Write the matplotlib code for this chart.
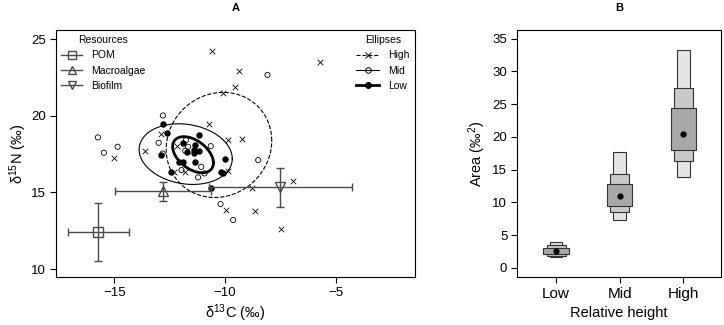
import numpy as np
import matplotlib
matplotlib.use("Agg")
import matplotlib.pyplot as plt
from matplotlib.lines import Line2D
from matplotlib.patches import Rectangle

plt.rcParams["font.family"] = ["Liberation Sans", "DejaVu Sans"]
plt.rcParams["mathtext.default"] = "regular"

# %% panel A data: consumers by relative height
high_x = [-10.59, -9.37, -9.55, -10.08, -5.71, -10.74, -9.89, -9.23, -12.88, -13.63,
          -15.02, -12.19, -12.30, -11.83, -9.86, -8.77, -6.95, -9.94, -8.65, -7.46]
high_y = [24.24, 22.93, 21.91, 21.50, 23.48, 19.46, 18.41, 18.48, 18.80, 17.72,
          17.22, 18.02, 16.35, 16.35, 16.40, 15.30, 15.76, 13.83, 13.76, 12.59]

mid_x = [-8.09, -12.81, -15.74, -14.85, -15.47, -13.00, -12.82, -11.77, -11.67, -11.80,
         -10.65, -11.08, -10.93, -11.97, -11.22, -8.51, -10.21, -9.64]
mid_y = [22.67, 20.02, 18.59, 17.98, 17.59, 18.24, 17.54, 18.41, 17.98, 17.72,
         18.02, 16.67, 16.24, 16.46, 15.98, 17.11, 14.24, 13.20]

low_x = [-12.82, -12.64, -11.17, -12.88, -11.71, -11.41, -11.89, -12.07, -12.45, -11.37,
         -10.03, -10.18, -10.08, -10.65, -11.40, -11.90, -11.17, -11.38]
low_y = [19.46, 18.85, 18.73, 17.41, 17.61, 17.80, 17.00, 17.00, 16.35, 17.00,
         17.17, 16.30, 16.26, 15.30, 17.55, 18.20, 17.70, 18.10]

# standard ellipses: centre x, centre y, sd x, sd y, correlation
ell_high = (-10.28, 18.10, 2.38, 3.43, 0.08)
ell_mid = (-11.78, 17.50, 2.10, 1.98, -0.15)
ell_low = (-11.45, 17.46, 0.92, 1.18, -0.45)

# resources: mean and sd
res_names = ["POM", "Macroalgae", "Biofilm"]
res_c_mean = [-15.72, -12.79, -7.52]
res_c_sd = [1.37, 2.16, 3.22]
res_n_mean = [12.42, 15.07, 15.33]
res_n_sd = [1.87, 0.63, 1.27]
res_markers = ["s", "^", "v"]

# %% panel B data: SEA credible intervals
groups = ["Low", "Mid", "High"]
mode = [2.54, 10.96, 20.48]
ci95 = [(1.68, 3.95), (7.29, 17.68), (13.93, 33.30)]
ci75 = [(1.88, 3.45), (8.56, 14.37), (16.38, 27.48)]
ci50 = [(2.14, 3.06), (9.43, 12.84), (18.06, 24.43)]


def ellipse_xy(cx, cy, sx, sy, rho):
    t = np.linspace(0, 2 * np.pi, 200)
    x = cx + sx * np.cos(t)
    y = cy + sy * (rho * np.cos(t) + np.sqrt(1 - rho ** 2) * np.sin(t))
    return x, y


fig = plt.figure(figsize=(7.24, 3.25), dpi=100)
axA = fig.add_axes([0.0773, 0.1477, 0.4959, 0.76])
axB = fig.add_axes([0.7141, 0.1477, 0.2818, 0.76])

# %% panel A
axA.scatter(high_x, high_y, marker="x", s=16, c="k", linewidths=0.6, zorder=3)
axA.scatter(mid_x, mid_y, marker="o", s=14, facecolors="none", edgecolors="k",
            linewidths=0.6, zorder=3)
axA.scatter(low_x, low_y, marker="o", s=13, c="k", zorder=3)

for e, ls, lw in [(ell_high, "--", 0.8), (ell_mid, "-", 0.8), (ell_low, "-", 2.0)]:
    ex, ey = ellipse_xy(*e)
    axA.plot(ex, ey, ls=ls, lw=lw, color="k", zorder=2)

res_col = "#4a4a4a"
for i in range(3):
    axA.errorbar(res_c_mean[i], res_n_mean[i], xerr=res_c_sd[i], yerr=res_n_sd[i],
                 fmt=res_markers[i], ms=7, mfc="none", mec=res_col, color=res_col,
                 ecolor=res_col, elinewidth=1, capsize=3, capthick=1, zorder=4)

axA.set_xlim(-17.63, -1.44)
axA.set_ylim(9.48, 25.6)
axA.set_xticks([-15, -10, -5])
axA.set_yticks([10, 15, 20, 25])
axA.set_xlabel("δ$^{13}$C (‰)", fontsize=10.5, labelpad=3)
axA.set_ylabel("δ$^{15}$N (‰)", fontsize=10.5, labelpad=2)
axA.set_title("A", fontsize=8, fontweight="bold", pad=14)

res_handles = [Line2D([], [], color=res_col, marker=m, ms=6, mfc="none", mec=res_col, lw=1)
               for m in res_markers]
leg1 = axA.legend(res_handles, res_names, title="Resources", loc="upper left",
                  frameon=False, fontsize=7.5, title_fontsize=7.5, handlelength=2.0,
                  handletextpad=0.9, labelspacing=0.5, borderaxespad=0.2, borderpad=0.3)
axA.add_artist(leg1)

ell_handles = [
    Line2D([], [], color="k", ls="--", lw=0.8, marker="x", ms=5, mew=0.7),
    Line2D([], [], color="k", ls="-", lw=0.8, marker="o", ms=4, mfc="none", mew=0.7),
    Line2D([], [], color="k", ls="-", lw=2.0, marker="o", ms=4),
]
axA.legend(ell_handles, ["High", "Mid", "Low"], title="Ellipses", loc="upper right",
           frameon=False, fontsize=7.5, title_fontsize=7.5, handlelength=2.2,
           handletextpad=0.9, labelspacing=0.5, borderaxespad=0.2, borderpad=0.3)

# %% panel B
widths = [0.2, 0.3, 0.4]
shades = ["#e4e4e4", "#c9c9c9", "#a8a8a8"]
for i in range(3):
    xc = i + 1
    for (lo, hi), w, col in zip([ci95[i], ci75[i], ci50[i]], widths, shades):
        axB.add_patch(Rectangle((xc - w / 2, lo), w, hi - lo, facecolor=col,
                                edgecolor="#333333", lw=0.8))
axB.scatter([1, 2, 3], mode, s=12, c="k", zorder=3)

axB.set_xlim(0.387, 3.59)
axB.set_ylim(-1.38, 36.3)
axB.set_xticks([1, 2, 3])
axB.set_xticklabels(groups)
axB.set_yticks(range(0, 36, 5))
axB.set_xlabel("Relative height", fontsize=10.5, labelpad=4)
axB.set_ylabel("Area (‰$^2$)", fontsize=10.5, labelpad=3)
axB.set_title("B", fontsize=8, fontweight="bold", pad=14)

for ax in (axA, axB):
    ax.tick_params(direction="out", length=4, width=0.8, labelsize=9.5, pad=3)
    for sp in ax.spines.values():
        sp.set_linewidth(0.8)
axB.tick_params(axis="x", labelsize=11)

fig.savefig("out.png", dpi=100)
